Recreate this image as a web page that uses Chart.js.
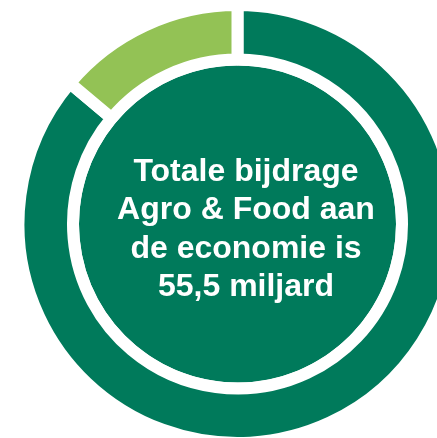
<!DOCTYPE html>
<html>
<head>
<meta charset="utf-8">
<script src="https://cdn.jsdelivr.net/npm/chart.js@4/dist/chart.umd.min.js"></script>
<style>
    html, body { margin: 0; padding: 0; background: #ffffff; overflow: hidden; }
    #wrap { position: absolute; left: 0; top: 0; width: 475px; height: 448px; }
</style>
</head>
<body>
<div id="wrap"><canvas id="donut" width="475" height="448"></canvas></div>
<script>
// Data
var categories = ["Overige Agro & Food", "Primaire sector"];
var values = [47.8, 7.7];           // miljard euro
var total = [55.5];                 // centre disc
var centerLines = ["Totale bijdrage", "Agro & Food aan", "de economie is", "55,5 miljard"];

// Colours
var darkGreen = "#007a5b";
var lightGreen = "#93c255";

// draws the text in the middle disc
var centerText = {
    id: "centerText",
    afterDraw: function (chart) {
        var arc = chart.getDatasetMeta(2).data[0];
        var ctx = chart.ctx;
        ctx.save();
        ctx.fillStyle = "#ffffff";
        ctx.font = "bold 32px 'Liberation Sans', Arial, sans-serif";
        ctx.textAlign = "center";
        ctx.textBaseline = "alphabetic";
        var cx = arc.x + 8.5;
        var firstBase = arc.y - 43.5;
        centerLines.forEach(function (line, i) {
            ctx.fillText(line, cx, firstBase + i * 38.5);
        });
        ctx.restore();
    }
};

var ctx = document.getElementById("donut").getContext("2d");
var chart = new Chart(ctx, {
    type: "doughnut",
    data: {
        labels: categories,
        datasets: [{
            data: values,
            backgroundColor: [darkGreen, lightGreen],
            borderColor: "#ffffff",
            borderWidth: 12,
            hoverBorderWidth: 12,
            borderAlign: "center",
            weight: 54.5
        }, {
            // white gap between ring and disc
            data: [1],
            backgroundColor: "rgba(0,0,0,0)",
            borderWidth: 0,
            hoverBorderWidth: 0,
            weight: 6
        }, {
            data: total,
            backgroundColor: darkGreen,
            borderWidth: 0,
            hoverBorderWidth: 0,
            weight: 158.5
        }]
    },
    options: {
        responsive: false,
        animation: false,
        cutout: 0,
        radius: 219,
        events: [],
        plugins: {
            legend: { display: false },
            tooltip: { enabled: false }
        }
    },
    plugins: [centerText]
});
</script>
</body>
</html>
